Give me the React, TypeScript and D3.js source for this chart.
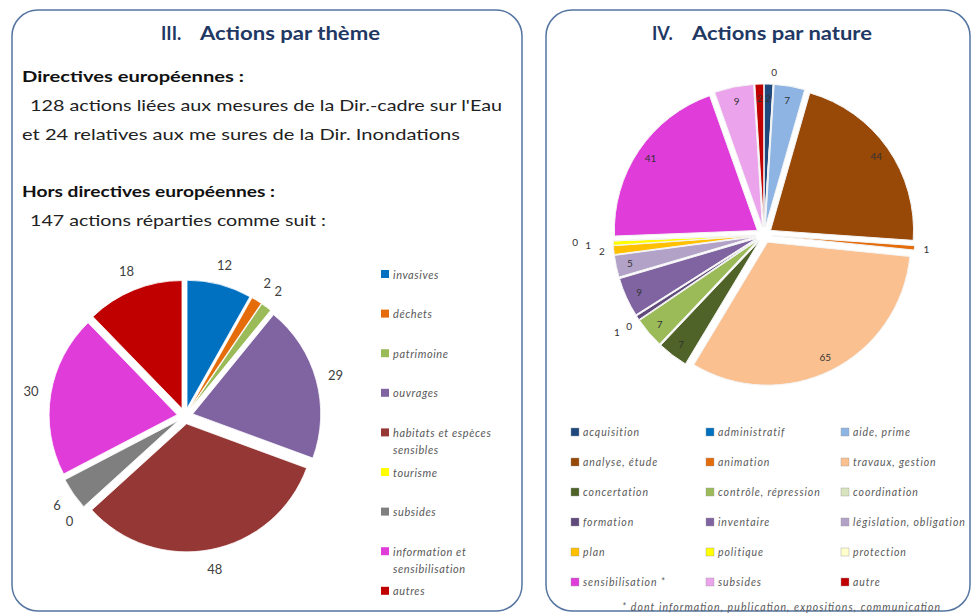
import React from 'react';
import * as d3 from 'd3';

// ---------- Data ----------
const themeCategories = [
  'invasives', 'déchets', 'patrimoine', 'ouvrages', 'habitats et espèces sensibles',
  'tourisme', 'subsides', 'information et sensibilisation', 'autres',
];
const themeValues = [12, 2, 2, 29, 48, 0, 6, 30, 18];
const themeLegendLines = [
  ['invasives'], ['déchets'], ['patrimoine'], ['ouvrages'], ['habitats et espèces', 'sensibles'],
  ['tourisme'], ['subsides'], ['information et', 'sensibilisation'], ['autres'],
];
const themeColors = ['#0070C0', '#E46C0A', '#9BBB59', '#8064A2', '#953735', '#FFFF00', '#7F7F7F', '#E03CDA', '#C00000'];

const natureCategories = [
  'acquisition', 'administratif', 'aide, prime',
  'analyse, étude', 'animation', 'travaux, gestion',
  'concertation', 'contrôle, répression', 'coordination',
  'formation', 'inventaire', 'législation, obligation',
  'plan', 'politique', 'protection',
  'sensibilisation *', 'subsides', 'autre',
];
const natureValues = [2, 0, 7, 44, 1, 65, 7, 7, 0, 1, 9, 5, 2, 1, 0, 41, 9, 2];
const natureColors = [
  '#1F497D', '#0070C0', '#8DB4E2',
  '#984807', '#E46C0A', '#FAC090',
  '#4F6228', '#9BBB59', '#D7E4BD',
  '#604A7B', '#8064A2', '#B3A2C7',
  '#FFC000', '#FFFF00', '#FFFFCC',
  '#E03CDA', '#EBA3EB', '#C00000',
];
const natureOutsideLabels = ['administratif', 'animation', 'coordination', 'formation', 'plan', 'politique', 'protection'];

const FONT = 'Lato, "Open Sans", sans-serif';

type Slice = d3.PieArcDatum<number>;

function PanelFrame({ x, y, w, h }: { x: number; y: number; w: number; h: number }) {
  return <rect x={x} y={y} width={w} height={h} rx={26} ry={26} fill="#fff" stroke="#5575A0" strokeWidth={1.5} />;
}

function ThemePie() {
  const cx = 185, cy = 416, r = 128, explode = 8, labelR = 156;
  const pie = d3.pie<number>().sort(null).value(d => d)(themeValues) as Slice[];
  const arc = d3.arc<Slice>().innerRadius(0).outerRadius(r);
  return (
    <g>
      {pie.map((s, i) => {
        const mid = (s.startAngle + s.endAngle) / 2;
        const dx = Math.sin(mid) * explode, dy = -Math.cos(mid) * explode;
        return (
          <path key={i} d={arc(s) || ''} transform={`translate(${cx + dx},${cy + dy})`}
            fill={themeColors[i]} stroke="#fff" strokeWidth={0.8} />
        );
      })}
      {pie.map((s, i) => {
        const mid = (s.startAngle + s.endAngle) / 2;
        return (
          <text key={'l' + i} x={cx + Math.sin(mid) * labelR} y={cy - Math.cos(mid) * labelR}
            textAnchor="middle" dominantBaseline="central" fontFamily={FONT} fontSize={13} fill="#404040">
            {themeValues[i]}
          </text>
        );
      })}
    </g>
  );
}

function NaturePie() {
  const cx = 764, cy = 235, r = 143, explode = 8;
  const pie = d3.pie<number>().sort(null).value(d => d)(natureValues) as Slice[];
  const arc = d3.arc<Slice>().innerRadius(0).outerRadius(r);
  const placed: { x: number; y: number }[] = [];
  const labels = pie.map((s, i) => {
    const mid = (s.startAngle + s.endAngle) / 2;
    const outside = natureOutsideLabels.includes(natureCategories[i]);
    let d = outside ? r + explode + 12 : r + explode - 14;
    let x = cx + Math.sin(mid) * d, y = cy - Math.cos(mid) * d;
    if (outside) {
      let guard = 0;
      while (placed.some(p => Math.abs(p.x - x) < 10 && Math.abs(p.y - y) < 11) && guard < 10) {
        d += 13;
        x = cx + Math.sin(mid) * d;
        y = cy - Math.cos(mid) * d;
        guard++;
      }
      placed.push({ x, y });
    }
    return { x, y, v: natureValues[i] };
  });
  return (
    <g>
      {pie.map((s, i) => {
        const mid = (s.startAngle + s.endAngle) / 2;
        const dx = Math.sin(mid) * explode, dy = -Math.cos(mid) * explode;
        return (
          <path key={i} d={arc(s) || ''} transform={`translate(${cx + dx},${cy + dy})`}
            fill={natureColors[i]} stroke="#f4f4f4" strokeWidth={1} />
        );
      })}
      {labels.map((l, i) => (
        <text key={'l' + i} x={l.x} y={l.y} textAnchor="middle" dominantBaseline="central"
          fontFamily={FONT} fontSize={10} fill="#333">
          {l.v}
        </text>
      ))}
    </g>
  );
}

function ThemeLegend() {
  const x0 = 381, y0 = 274, step = 39.6;
  return (
    <g>
      {themeLegendLines.map((lines, i) => {
        const y = y0 + i * step;
        return (
          <g key={i}>
            <rect x={x0} y={y - 4} width={8} height={8} fill={themeColors[i]} />
            {lines.map((t, j) => (
              <text key={j} x={x0 + 12} y={y + j * 17} dominantBaseline="central"
                fontFamily={FONT} fontStyle="italic" fontSize={11} letterSpacing={0.6} fill="#595959">{t}</text>
            ))}
          </g>
        );
      })}
    </g>
  );
}

function NatureLegend() {
  const cols = [571, 706, 841];
  const y0 = 432, step = 30;
  return (
    <g>
      {natureCategories.map((c, i) => {
        const x = cols[i % 3], y = y0 + Math.floor(i / 3) * step;
        return (
          <g key={i}>
            <rect x={x} y={y - 4} width={8} height={8} fill={natureColors[i]} stroke="#999" strokeWidth={0.4} />
            <text x={x + 12} y={y} dominantBaseline="central" fontFamily={FONT} fontStyle="italic"
              fontSize={10.5} letterSpacing={0.9} fill="#595959">{c}</text>
          </g>
        );
      })}
      <text x={622} y={607} dominantBaseline="central" fontFamily={FONT}
        fontStyle="italic" fontSize={10.5} fill="#595959" textLength={318} lengthAdjust="spacing">* dont information, publication, expositions, communication</text>
    </g>
  );
}

export default function App() {
  const titleColor = '#1F3864';
  return (
    <svg width={973} height={615} style={{ position: 'absolute', left: 0, top: 0, background: '#fff' }}>
      <rect x={0} y={0} width={973} height={615} fill="#fff" />
      <PanelFrame x={12} y={10} w={510} h={601} />
      <PanelFrame x={546} y={10} w={424} h={601} />

      <text x={161} y={33} dominantBaseline="central" fontFamily={FONT} fontWeight="bold" fontSize={18} fill={titleColor}>III.</text>
      <text x={200} y={33} dominantBaseline="central" fontFamily={FONT} fontWeight="bold" fontSize={18} fill={titleColor}
        textLength={180} lengthAdjust="spacingAndGlyphs">Actions par thème</text>
      <text x={652} y={33} dominantBaseline="central" fontFamily={FONT} fontWeight="bold" fontSize={18} fill={titleColor}>IV.</text>
      <text x={692} y={33} dominantBaseline="central" fontFamily={FONT} fontWeight="bold" fontSize={18} fill={titleColor}
        textLength={180} lengthAdjust="spacingAndGlyphs">Actions par nature</text>

      <text x={22} y={75} dominantBaseline="central" fontFamily={FONT} fontWeight="bold" fontSize={16} fill="#111"
        textLength={222} lengthAdjust="spacingAndGlyphs">Directives européennes :</text>
      <text x={30} y={104} dominantBaseline="central" fontFamily={FONT} fontSize={16} fill="#222"
        textLength={472} lengthAdjust="spacingAndGlyphs">128 actions liées aux mesures de la Dir.-cadre sur l'Eau</text>
      <text x={22} y={133} dominantBaseline="central" fontFamily={FONT} fontSize={16} fill="#222"
        textLength={438} lengthAdjust="spacingAndGlyphs">et  24 relatives aux me sures de la Dir. Inondations</text>
      <text x={22} y={190} dominantBaseline="central" fontFamily={FONT} fontWeight="bold" fontSize={16} fill="#111"
        textLength={253} lengthAdjust="spacingAndGlyphs">Hors directives européennes :</text>
      <text x={30} y={219} dominantBaseline="central" fontFamily={FONT} fontSize={16} fill="#222"
        textLength={296} lengthAdjust="spacingAndGlyphs">147 actions réparties comme suit :</text>

      <ThemePie />
      <ThemeLegend />
      <NaturePie />
      <NatureLegend />
    </svg>
  );
}
